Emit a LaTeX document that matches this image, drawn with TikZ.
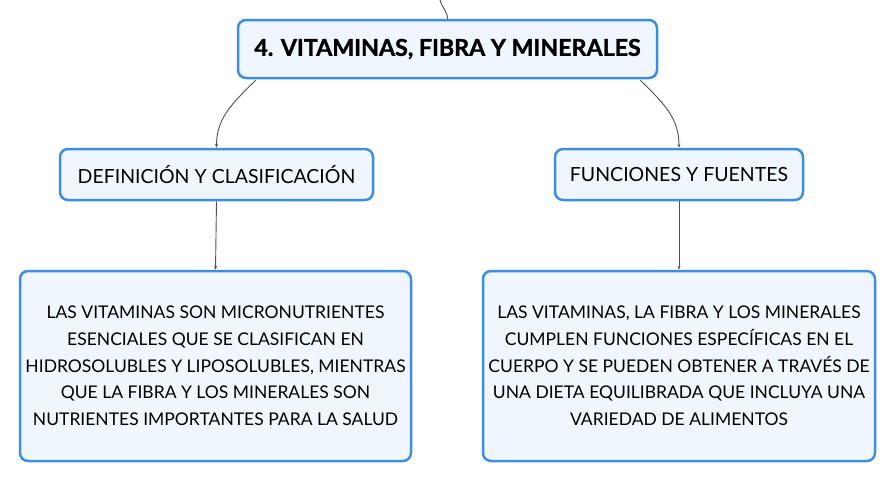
\documentclass[tikz,border=0pt]{standalone}
\usepackage{fontspec}
\setmainfont{Lato}
\newfontfamily\titlefont[BoldFeatures={FakeBold=1.3}]{Lato}
\usetikzlibrary{arrows.meta}
\definecolor{bord}{HTML}{3C8FE0}
\definecolor{fillb}{HTML}{EFF6FD}
\definecolor{conn}{HTML}{505050}
\begin{document}
\begin{tikzpicture}[x=1pt,y=-1pt,
  box/.style={draw=bord, line width=2.5pt, fill=fillb, rounded corners=8pt, align=center, inner sep=0pt, text=black},
  conn/.style={draw=conn, line width=0.9pt},
  arr/.style={conn, -{Stealth[length=4pt,width=3pt]}},
  midfont/.style={font=\fontsize{19.5}{22}\selectfont},
  bodyfont/.style={font=\fontsize{17.5}{26.7}\selectfont}]
\useasboundingbox (0,0) rectangle (896,483);
\node[box, minimum width=419pt, minimum height=58pt, font=\titlefont\bfseries\fontsize{23.2}{26}\selectfont] (top) at (447.5,49) {4. VITAMINAS, FIBRA Y MINERALES};
\node[box, minimum width=313pt, minimum height=51pt, midfont] (lmid) at (216.5,174.5) {DEFINICIÓN Y CLASIFICACIÓN};
\node[box, minimum width=248pt, minimum height=51pt, midfont] (rmid) at (679,174.5) {FUNCIONES Y FUENTES};
\node[box, minimum width=391pt, minimum height=190pt, bodyfont] (lbot) at (215.5,366) {LAS VITAMINAS SON MICRONUTRIENTES\\ESENCIALES QUE SE CLASIFICAN EN\\HIDROSOLUBLES Y LIPOSOLUBLES, MIENTRAS\\QUE LA FIBRA Y LOS MINERALES SON\\NUTRIENTES IMPORTANTES PARA LA SALUD};
\node[box, minimum width=392pt, minimum height=190pt, bodyfont] (rbot) at (679,366) {LAS VITAMINAS, LA FIBRA Y LOS MINERALES\\CUMPLEN FUNCIONES ESPECÍFICAS EN EL\\CUERPO Y SE PUEDEN OBTENER A TRAVÉS DE\\UNA DIETA EQUILIBRADA QUE INCLUYA UNA\\VARIEDAD DE ALIMENTOS};
\coordinate (in) at (440,0);
\draw[conn] (in) .. controls +(2,8) and +(0,-8) .. (top.north);
\draw[arr] ([xshift=19pt,yshift=-1pt]top.south west) .. controls +(-26,25) and +(0,-28) .. (lmid.north);
\draw[arr] ([xshift=-18pt,yshift=-1pt]top.south east) .. controls +(26,25) and +(0,-28) .. (rmid.north);
\draw[arr] (lmid.south) -- (lbot.north);
\draw[arr] (rmid.south) -- (rbot.north);
\end{tikzpicture}
\end{document}
